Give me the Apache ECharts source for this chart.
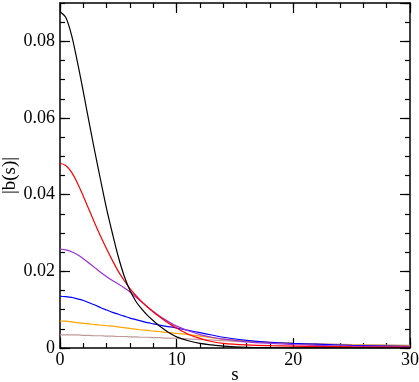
<!DOCTYPE html>
<html>
<head>
<meta charset="utf-8">
<script src="https://cdn.jsdelivr.net/npm/echarts@6/dist/echarts.min.js"></script>
<style>
  html, body { margin: 0; padding: 0; background: #fff; font-family: 'Liberation Serif', serif; }
  #chart { width: 419px; height: 382px; }
</style>
</head>
<body>
<div id="chart"></div>
<script>
const sVals = [0, 0.5, 1, 1.5, 2, 2.5, 3, 3.5, 4, 4.5, 5, 5.5, 6, 6.5, 7, 7.5, 8, 8.5, 9, 9.5, 10,
               11, 12, 13, 14, 16, 18, 20, 22, 25, 30];

const black  = [0.0877, 0.0862, 0.0815, 0.0745, 0.0668, 0.0588, 0.0510, 0.0435, 0.0362, 0.0298, 0.0238,
                0.0188, 0.0150, 0.0122, 0.0102, 0.0085, 0.0071, 0.0058, 0.0047, 0.0037, 0.0029,
                0.0019, 0.0012, 0.0008, 0.0005, 0.0002, 0.0001, 0.00005, 0.00003, 0.00002, 0.00001];
const red    = [0.0482, 0.0476, 0.0458, 0.0430, 0.0396, 0.0360, 0.0324, 0.0290, 0.0258, 0.0228, 0.0200,
                0.0176, 0.0155, 0.0137, 0.0121, 0.0107, 0.0094, 0.0082, 0.0071, 0.0061, 0.0052,
                0.0036, 0.0025, 0.0017, 0.0012, 0.0008, 0.0006, 0.0005, 0.0004, 0.0003, 0.0002];
const violet = [0.0258, 0.0256, 0.0251, 0.0243, 0.0233, 0.0221, 0.0209, 0.0197, 0.0186, 0.0176, 0.0167,
                0.0157, 0.0146, 0.0133, 0.0120, 0.0107, 0.0095, 0.0084, 0.0074, 0.0065, 0.0057,
                0.0045, 0.0035, 0.0028, 0.0023, 0.0016, 0.0012, 0.0009, 0.0007, 0.0005, 0.0003];
const blue   = [0.0135, 0.0134, 0.0132, 0.0128, 0.0124, 0.0118, 0.0112, 0.0105, 0.0099, 0.0093, 0.0088,
                0.0083, 0.0078, 0.0074, 0.0070, 0.0066, 0.0063, 0.0060, 0.0057, 0.0055, 0.0052,
                0.0046, 0.0040, 0.0034, 0.0028, 0.0020, 0.0015, 0.0012, 0.0010, 0.0007, 0.0004];
const orange = [0.0070, 0.0070, 0.0068, 0.0066, 0.0064, 0.0063, 0.0061, 0.0060, 0.0058, 0.0057, 0.0055,
                0.0053, 0.0051, 0.0049, 0.0047, 0.0046, 0.0044, 0.0043, 0.0041, 0.0040, 0.0038,
                0.0035, 0.0031, 0.0027, 0.0023, 0.0018, 0.0015, 0.0012, 0.0010, 0.0008, 0.0006];
const brown  = [0.0034, 0.0034, 0.0034, 0.0034, 0.0033, 0.0033, 0.0032, 0.0032, 0.0031, 0.0031, 0.0030,
                0.0030, 0.0029, 0.0029, 0.0028, 0.0028, 0.0027, 0.0027, 0.0026, 0.0026, 0.0025,
                0.0024, 0.0022, 0.0021, 0.0019, 0.0016, 0.0014, 0.0012, 0.0011, 0.0009, 0.0007];

const yTicks = ['0', '0.02', '0.04', '0.06', '0.08'];

const chart = echarts.init(document.getElementById('chart'));

const font = 'Liberation Serif';
const axisLine = {show: true, onZero: false, lineStyle: {color: '#000', width: 1.5}};
const tick = (len) => ({show: true, inside: true, length: len, lineStyle: {color: '#000', width: 1.2}});

// extra axes carrying the small ticks (no line, no labels)
const minorX = (pos) => ({
  type: 'value', min: 0, max: 30, interval: 2, position: pos,
  axisLine: {show: false, onZero: false}, axisTick: tick(5),
  axisLabel: {show: false}, splitLine: {show: false}
});
const minorY = (pos) => ({
  type: 'value', min: 0, max: 0.09, interval: 0.005, position: pos,
  axisLine: {show: false, onZero: false}, axisTick: tick(5),
  axisLabel: {show: false}, splitLine: {show: false}
});

const mk = (name, data, color) => ({
  name,
  type: 'line',
  data: sVals.map((s, i) => [s, data[i]]),
  showSymbol: false,
  smooth: 0.3,
  lineStyle: {color, width: 1.2},
  silent: true
});

chart.setOption({
  animation: false,
  textStyle: {fontFamily: font},
  grid: {left: 60, right: 9, top: 3, bottom: 34, outerBoundsMode: 'none', containLabel: false},
  xAxis: [
    {
      type: 'value', min: 0, max: 30, interval: 10, position: 'bottom',
      name: 's', nameLocation: 'middle', nameGap: 18, nameMoveOverlap: false,
      nameTextStyle: {fontFamily: font, fontSize: 19, color: '#000'},
      axisLine, axisTick: tick(10),
      axisLabel: {fontFamily: font, fontSize: 18, color: '#000', margin: 3},
      splitLine: {show: false}
    },
    {
      type: 'value', min: 0, max: 30, interval: 10, position: 'top',
      axisLine, axisTick: tick(10),
      axisLabel: {show: false}, splitLine: {show: false}
    },
    minorX('bottom'),
    minorX('top')
  ],
  yAxis: [
    {
      type: 'value', min: 0, max: 0.09, interval: 0.02, position: 'left',
      name: '|b(s)|', nameLocation: 'middle', nameGap: 40, nameMoveOverlap: false,
      nameTextStyle: {fontFamily: font, fontSize: 19, color: '#000'},
      axisLine, axisTick: tick(10),
      axisLabel: {
        fontFamily: font, fontSize: 18, color: '#000', margin: 5,
        showMaxLabel: false,
        formatter: (v) => yTicks[Math.round(v / 0.02)] || ''
      },
      splitLine: {show: false}
    },
    {
      type: 'value', min: 0, max: 0.09, interval: 0.02, position: 'right',
      axisLine, axisTick: tick(10),
      axisLabel: {show: false}, splitLine: {show: false}
    },
    minorY('left'),
    minorY('right')
  ],
  series: [
    mk('brown', brown, '#c09a9a'),
    mk('orange', orange, '#ffa500'),
    mk('blue', blue, '#0000ff'),
    mk('violet', violet, '#9a30d8'),
    mk('red', red, '#ff0000'),
    mk('black', black, '#000000')
  ]
});
</script>
</body>
</html>
